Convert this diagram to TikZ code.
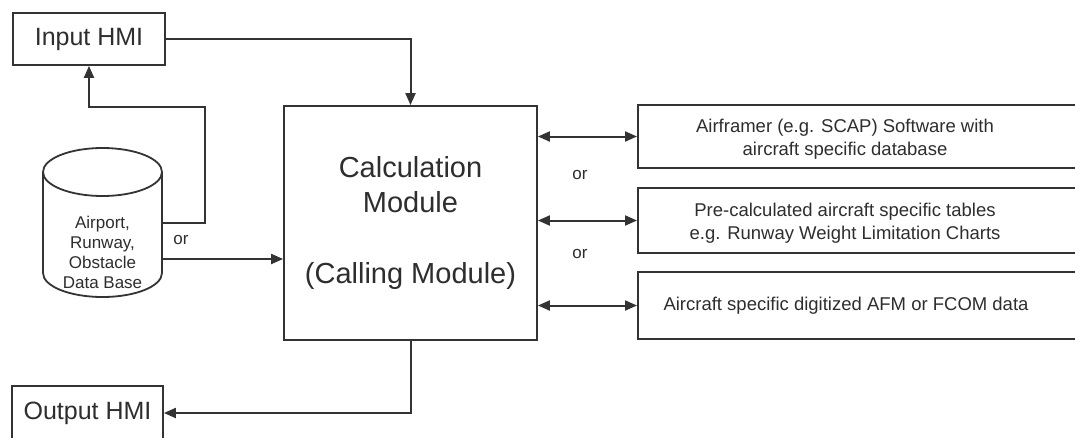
\documentclass[tikz,border=0pt]{standalone}
\usepackage{fontspec}
\setmainfont{Liberation Sans}
\usetikzlibrary{arrows.meta}
\definecolor{ln}{HTML}{333333}
\definecolor{tx}{HTML}{2E2E2E}
\begin{document}
\begin{tikzpicture}[x=1pt,y=-1pt,
  box/.style={draw=ln, line width=1.8pt, fill=white, inner sep=0pt, text=tx},
  conn/.style={draw=ln, line width=2pt, -{Triangle[length=12pt,width=10pt]}},
  dconn/.style={draw=ln, line width=2pt, {Triangle[length=12pt,width=10pt]}-{Triangle[length=12pt,width=10pt]}},
  ortxt/.style={text=tx, font=\fontsize{17}{19}\selectfont, inner sep=0pt},
  rtxt/.style={text=tx, font=\fontsize{18.5}{23}\selectfont, align=center, inner sep=0pt}]
\useasboundingbox (0,0) rectangle (1075,437);
\clip (0,0) rectangle (1075,437);
\fill[white] (0,0) rectangle (1075,437);

% Input / Output HMI
\node[box, minimum width=152pt, minimum height=52pt, font=\fontsize{25}{27}\selectfont] (inp) at (89,39) {Input HMI};
\node[box, minimum width=151pt, minimum height=54pt, font=\fontsize{25}{27}\selectfont] (out) at (87.5,413) {Output HMI};

% Calculation module
\node[box, minimum width=253pt, minimum height=234pt, align=center,
      font=\fontsize{29}{35}\selectfont] (calc) at (410.5,223)
      {Calculation\\Module\\[36pt](Calling Module)};

% Database cylinder
\draw[ln, line width=1.8pt, fill=white]
  (43,172) -- (43,273) .. controls (43,286.25) and (69.6,297) .. (102.5,297)
  .. controls (135.4,297) and (162,286.25) .. (162,273) -- (162,172);
\draw[ln, line width=1.8pt, fill=white] (102.5,172) ellipse [x radius=59.5pt, y radius=24pt];
\node[text=tx, align=center, inner sep=0pt, font=\fontsize{17}{20}\selectfont] (dbt) at (102.5,252)
  {Airport,\\Runway,\\Obstacle\\Data Base};
\coordinate (dbA) at (162,223);
\coordinate (dbB) at (162,259);
\coordinate (k1) at (205,107);

% Right-hand boxes
\node[box, anchor=west, minimum width=470pt, minimum height=63pt] (r1) at (637,136.5) {};
\node[box, anchor=west, minimum width=470pt, minimum height=65pt] (r2) at (637,220.5) {};
\node[box, anchor=west, minimum width=470pt, minimum height=67pt] (r3) at (637,305.5) {};
\node[rtxt] (r1t) at (845,139) {Airframer (e.g. SCAP) Software with\\aircraft specific database};
\node[rtxt] (r2t) at (845,223) {Pre-calculated aircraft specific tables\\e.g. Runway Weight Limitation Charts};
\node[rtxt] (r3t) at (846,306) {Aircraft specific digitized AFM or FCOM data};

% "or" labels
\node[ortxt] (or1) at (181,240) {or};
\node[ortxt] (or2) at (580,175) {or};
\node[ortxt] (or3) at (580,254) {or};

% Connectors
\draw[conn] (inp.east) -| (calc.north);
\draw[conn] (dbA) -| (k1) -| (inp.south);
\draw[conn] (dbB) -- (dbB -| calc.west);
\draw[conn] (calc.south) |- (out.east);
\draw[dconn] (r1.west -| calc.east) -- (r1.west);
\draw[dconn] (r2.west -| calc.east) -- (r2.west);
\draw[dconn] (r3.west -| calc.east) -- (r3.west);
\end{tikzpicture}
\end{document}
